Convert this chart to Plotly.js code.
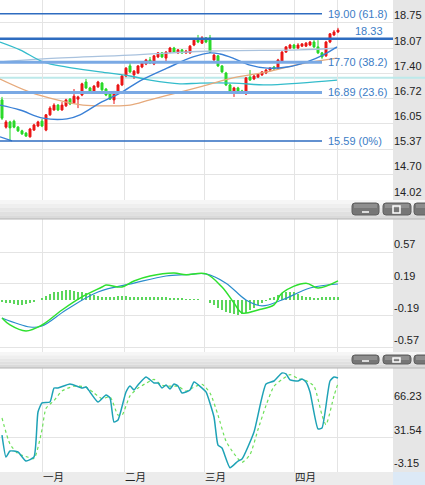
<!DOCTYPE html>
<html><head><meta charset="utf-8">
<script src="https://cdn.plot.ly/plotly-3.0.1.min.js"></script>
<style>html,body{margin:0;padding:0;background:#fff;overflow:hidden}#chart{width:425px;height:485px}</style>
</head><body><div id="chart"></div>
<script>
// ---------- data ----------
const candleIdx = [0,1,2,3,4,5,6,7,8,9,10,11,12,13,14,15,16,17,18,19,20,21,22,23,24,25,26,27,28,29,30,31,32,33,34,35,36,37,38,39,40,41,42,43,44,45,46,47,48,49,50,51,52,53,54,55,56,57,58,59,60,61,62,63,64,65,66,67,68,69,70,71,72,73,74,75,76,77,78,79,80,81,82,83,84];
const opens = [16.69,15.96,16.10,16.12,15.96,15.86,15.80,15.70,15.88,15.99,
16.12,15.88,16.29,16.42,16.55,16.42,16.53,16.71,16.61,16.71,
16.82,17.17,17.01,16.93,17.04,17.14,16.98,16.87,16.69,16.90,
17.09,17.33,17.60,17.36,17.41,17.57,17.65,17.76,17.65,17.84,
17.95,17.81,17.97,18.08,17.95,18.03,17.95,17.95,18.16,18.32,
18.21,18.35,18.35,17.76,17.87,17.60,17.41,17.09,16.90,17.01,
16.93,16.85,17.30,17.25,17.30,17.36,17.41,17.49,17.57,17.54,
17.73,17.97,18.08,18.16,18.08,18.13,18.13,18.16,18.24,18.11,
17.95,17.87,18.24,18.43,18.51];
const highs = [16.77,16.15,16.13,16.16,15.99,15.89,15.83,15.94,16.05,16.13,
16.18,16.31,16.52,16.60,16.58,16.63,16.72,16.74,16.98,16.80,
17.15,17.25,17.04,17.09,17.20,17.17,17.01,16.90,16.93,17.12,
17.36,17.57,17.71,17.49,17.62,17.71,17.79,17.84,17.89,17.97,
17.97,18.00,18.11,18.11,18.05,18.05,18.03,18.16,18.32,18.43,
18.40,18.37,18.43,17.92,17.89,17.62,17.44,17.12,17.04,17.04,
16.96,17.30,17.49,17.36,17.41,17.46,17.52,17.57,17.60,17.79,
18.00,18.13,18.19,18.19,18.21,18.21,18.24,18.27,18.29,18.29,
17.97,18.27,18.48,18.56,18.62];
const lows = [16.15,15.92,15.59,15.93,15.83,15.75,15.70,15.68,15.86,15.96,
15.96,15.85,16.26,16.40,16.39,16.40,16.50,16.55,16.58,16.47,
16.79,16.98,16.87,16.90,17.01,16.93,16.79,16.69,16.58,16.87,
17.06,17.30,17.41,17.25,17.38,17.54,17.62,17.65,17.62,17.81,
17.81,17.68,17.95,17.95,17.92,17.92,17.92,17.92,18.13,18.21,
18.19,18.21,17.95,17.73,17.57,17.41,17.06,16.87,16.77,16.90,
16.85,16.82,17.20,17.22,17.28,17.33,17.38,17.46,17.49,17.52,
17.71,17.95,18.05,18.05,18.05,18.11,18.11,18.13,18.08,17.92,
17.79,17.84,18.21,18.40,18.48];
const closes = [16.20,16.10,15.94,15.96,15.86,15.78,15.72,15.91,16.02,16.10,
15.99,16.29,16.47,16.55,16.42,16.55,16.69,16.58,16.79,16.77,
17.12,17.01,16.90,17.06,17.17,16.96,16.82,16.71,16.90,17.09,
17.33,17.54,17.44,17.46,17.60,17.68,17.76,17.68,17.87,17.95,
17.84,17.97,18.08,17.97,18.03,17.95,18.00,18.13,18.29,18.24,
18.35,18.24,17.97,17.89,17.60,17.44,17.09,16.90,17.01,16.93,
16.87,17.28,17.22,17.33,17.38,17.44,17.49,17.54,17.52,17.76,
17.97,18.11,18.16,18.08,18.16,18.19,18.21,18.24,18.11,17.95,
17.84,18.24,18.46,18.51,18.56];

// overlay lines on the price panel
const maBlueIdx = [-0.5,4.5,10.25,16.25,19.5,24.5,29.5,34.5,41.25,47.75,52,54.5,57.75,62,66.25,71.25,76.25,80.25,83.75];
const maBlueVal = [16.55,16.42,16.20,16.18,16.29,16.61,16.87,17.20,17.54,17.84,17.95,17.92,17.81,17.62,17.54,17.57,17.71,17.89,18.11];
const maCyanIdx = [-0.5,4.5,10.25,16.25,24.5,32,37,44.5,49.5,57.75,66.25,74.5,83.75];
const maCyanVal = [18.24,18.03,17.71,17.57,17.44,17.33,17.22,17.12,17.14,17.14,17.09,17.14,17.22];
const maOrangeIdx = [-0.5,7,13.75,20.25,27,32,37,44.5,49.5,57.75,66.25,74.5,83.75];
const maOrangeVal = [17.25,16.90,16.69,16.55,16.53,16.55,16.69,16.90,17.04,17.28,17.44,17.65,17.81];
const maSteelIdx = [-0.5,10.25,32,52.5,74.5,83.75];
const maSteelVal = [17.71,17.79,17.89,18.00,18.03,18.08];
const lowSegIdx = [-0.5,2.5];
const lowSegVal = [15.70,15.59];
const hLineLevel = 17.28;

const fibLevels = [19.00, 18.33, 17.70, 16.89, 15.59];
const fibLabels = ['19.00 (61.8)', '18.33', '17.70 (38.2)', '16.89 (23.6)', '15.59 (0%)'];

// MACD
const difIdx = [0,2,6,10,15,20,25,26,30,33,37,43,46,51,55,58,60,64,68,70,76,79,84];
const difVal = [-0.214,-0.297,-0.368,-0.297,-0.119,0.036,0.154,0.178,0.154,0.226,0.285,0.32,0.30,0.31,0.154,-0.036,-0.154,-0.119,-0.059,0.083,0.20,0.142,0.226];
const deaIdx = [0,7,10,16,24,33,41,46,51,56,61,65,70,77,84];
const deaVal = [-0.214,-0.321,-0.309,-0.119,0.095,0.20,0.285,0.30,0.31,0.20,0.0,-0.071,0.0,0.142,0.19];
const macdHist = [-0.02,-0.03,-0.04,
-0.05,-0.06,-0.06,-0.05,-0.04,-0.02,
0.00,0.02,
0.05,0.07,0.09,0.10,0.11,0.12,
0.12,0.11,0.10,0.09,0.08,0.07,
0.06,0.05,0.04,0.03,0.04,
0.04,0.05,0.05,0.05,0.04,0.04,0.04,0.04,
0.04,0.04,0.03,0.03,0.03,0.03,0.02,0.02,0.02,0.02,
0.01,0.01,0.01,0.01,0.00,0.00,
-0.03,-0.06,-0.09,-0.12,-0.14,-0.16,-0.17,
-0.18,-0.17,-0.15,-0.12,-0.09,
-0.06,-0.03,-0.01,0.02,
0.04,0.06,0.08,0.09,0.10,0.09,
0.07,0.05,0.04,0.03,0.02,
0.02,0.03,0.03,0.04,0.04,0.04];

// Stochastic
const kIdx = [0,1,2,4,6,8,9,10,12,13,14,17,20,21,22,24,26,27,28,29,31,32,33,34,36,38,39,40,41,42,43,44,45,47,48,50,51,53,54,55,57,59,60,63,66,68,70,71,72,74,75,76,77,79,80,82,83,84];
const kVal = [34.3,11.5,17.7,16.7,7.3,11.5,58.2,67.6,68.6,83.1,83.1,87.3,83.1,84.2,79.0,68.6,75.9,72.8,47.8,49.9,79.0,85.2,81.1,86.3,94.6,88.3,88.3,83.1,86.3,82.1,87.3,85.2,77.9,81.1,89.4,83.1,79.0,53.0,23.9,20.8,0.4,7.3,9.4,37.5,87.3,90.4,98.7,97.7,91.5,90.4,92.5,89.4,79.0,40.6,41.6,90.4,94.6,93.5];
const dIdx = [0,2,4,6,8,10,11,13,15,18,21,23,25,27,29,30,32,34,36,38,40,42,44,46,48,50,52,54,56,58,60,62,64,66,68,70,72,74,76,78,80,81,83,84];
const dVal = [52,25,15,12,10,40,62,70,80,85,84,78,72,74,55,55,75,83,88,92,86,85,85,80,84,87,78,55,28,15,6,14,40,65,85,92,97,93,91,85,55,45,75,88];

// axis ticks
const gridIdx = [10, 30.5, 50.5, 73, 83.75];
const monthLabels = ['一月','二月','三月','四月'];
const priceTicks = [18.75,18.07,17.40,16.72,16.05,15.37,14.70,14.02];
const macdTicks = [0.57,0.19,-0.19,-0.57];
const stochTicks = [66.23,31.54,-3.15];

// ---------- layout helpers (pixel geometry) ----------
const H = 485, MB = 13, MR = 32, PH = H - MB, PW = 425 - MR;
const py = p => (PH - p) / PH;
const pxf = p => p / PW;

const gridColor = '#e4e4e4';
const tickFont = {family: 'Liberation Sans, Arial, sans-serif', size: 11, color: '#222'};
const xBase = {range: [-0.5, 97.75], tickvals: gridIdx, showgrid: true, gridcolor: gridColor, zeroline: false, showline: false, ticks: '', showticklabels:false, fixedrange: true};

const shapes = [];
// right axis column
shapes.push({type:'rect', xref:'paper', yref:'paper', x0:1, x1:pxf(425), y0:py(485), y1:1, fillcolor:'#e6e6e6', line:{width:0}, layer:'below'});
// bottom month strip
shapes.push({type:'rect', xref:'paper', yref:'paper', x0:0, x1:1, y0:py(485), y1:0, fillcolor:'#ececec', line:{width:0}, layer:'below'});
shapes.push({type:'rect', xref:'paper', yref:'paper', x0:1, x1:pxf(425), y0:py(485), y1:0, fillcolor:'#dce9f6', line:{width:0}, layer:'below'});

// panel title bars
function titleBar(top, bottom) {
  const cols = ['#f6f6f6','#efefef','#e7e7e7','#e0e0e0','#dadada'];
  const step = (bottom - top) / cols.length;
  cols.forEach((c, k) => {
    shapes.push({type:'rect', xref:'paper', yref:'paper', x0:0, x1:pxf(425), y0:py(top + (k+1)*step), y1:py(top + k*step), fillcolor:c, line:{width:0}, layer:'above'});
  });
  shapes.push({type:'line', xref:'paper', yref:'paper', x0:0, x1:pxf(425), y0:py(bottom), y1:py(bottom), line:{color:'#b4b4b4', width:1}, layer:'above'});
  const bt = top + 3, bb = bottom - 4;
  [[352,379],[383,411],[414,440]].forEach(([a,b]) => {
    const r = 3;
    const path = `M ${pxf(a+r)} ${py(bt)} L ${pxf(b-r)} ${py(bt)} Q ${pxf(b)} ${py(bt)} ${pxf(b)} ${py(bt+r)} L ${pxf(b)} ${py(bb-r)} Q ${pxf(b)} ${py(bb)} ${pxf(b-r)} ${py(bb)} L ${pxf(a+r)} ${py(bb)} Q ${pxf(a)} ${py(bb)} ${pxf(a)} ${py(bb-r)} L ${pxf(a)} ${py(bt+r)} Q ${pxf(a)} ${py(bt)} ${pxf(a+r)} ${py(bt)} Z`;
    shapes.push({type:'path', xref:'paper', yref:'paper', path, fillcolor:'#767676', line:{color:'#5e5e5e', width:1}, layer:'above'});
    shapes.push({type:'rect', xref:'paper', yref:'paper', x0:pxf(a+2), x1:pxf(b-2), y0:py(bt+5), y1:py(bt+1), fillcolor:'rgba(255,255,255,0.18)', line:{width:0}, layer:'above'});
  });
  shapes.push({type:'line', xref:'paper', yref:'paper', x0:pxf(362), x1:pxf(369), y0:py(bb-3), y1:py(bb-3), line:{color:'#ffffff', width:1.5}, layer:'above'});
  shapes.push({type:'rect', xref:'paper', yref:'paper', x0:pxf(393), x1:pxf(400), y0:py(bb-2), y1:py(bt+3), fillcolor:'rgba(0,0,0,0)', line:{color:'#ffffff', width:1.5}, layer:'above'});
}
titleBar(200, 219);
titleBar(352, 368);

// fib lines
fibLevels.forEach((lv, k) => {
  const thick = (k === 2 || k === 3);
  const full = (k === 1);
  const s = {type:'line', xref: 'x', yref:'y', x0:-0.5, x1:80, y0:lv, y1:lv,
    line:{color: thick ? '#7aa9e4' : '#2e6cc0', width: thick ? 3 : (full ? 2.5 : 1.5)}, layer:'above'};
  if (full) { s.xref = 'paper'; s.x0 = 0; s.x1 = 1; }
  shapes.push(s);
});
// light horizontal level across the axis column
shapes.push({type:'line', xref:'paper', yref:'y', x0:0, x1:pxf(425), y0:hLineLevel, y1:hLineLevel, line:{color:'#bde9ea', width:2}, layer:'below'});

const annotations = fibLabels.map((t, k) => k === 1 ?
  {x: 95.75, y: fibLevels[k], xref:'x', yref:'y', text: t, showarrow:false, xanchor:'right', yanchor:'bottom', yshift:0, font:{family:'Liberation Sans, Arial, sans-serif', size:11, color:'#3b7cc6'}} :
  {x: 81, y: fibLevels[k], xref:'x', yref:'y', text: t, showarrow:false, xanchor:'left', yanchor:'middle', font:{family:'Liberation Sans, Arial, sans-serif', size:11, color:'#3b7cc6'}});

// month labels in the bottom strip
monthLabels.forEach((t, k) => {
  annotations.push({x: gridIdx[k] + 0.1, y: py(476.5), xref:'x3', yref:'paper', text: t, showarrow:false, xanchor:'left', yanchor:'middle', borderpad:0,
    font:{family:'Noto Sans CJK SC, sans-serif', size:10.5, color:'#222'}});
});

const lineTrace = (x, y, color, w, xa, ya, extra) => Object.assign({type:'scatter', mode:'lines', x, y, xaxis:xa, yaxis:ya, line:{color, width:w, shape:'spline', smoothing:1}, hoverinfo:'skip'}, extra || {});

const traces = [
  lineTrace(maSteelIdx, maSteelVal, '#a9c2de', 1.3, 'x', 'y'),
  lineTrace(maCyanIdx, maCyanVal, '#33bccb', 1.3, 'x', 'y'),
  lineTrace(maOrangeIdx, maOrangeVal, '#e6aa7c', 1.3, 'x', 'y'),
  lineTrace(maBlueIdx, maBlueVal, '#3a80d6', 1.4, 'x', 'y'),
  lineTrace(lowSegIdx, lowSegVal, '#3a80d6', 1.4, 'x', 'y'),
  {type:'candlestick', x:candleIdx, open:opens, high:highs, low:lows, close:closes, xaxis:'x', yaxis:'y',
   increasing:{line:{color:'#e81414', width:1}, fillcolor:'#f01818'},
   decreasing:{line:{color:'#22d622', width:1}, fillcolor:'#33e033'},
   whiskerwidth:0, hoverinfo:'skip'},
  {type:'bar', x:candleIdx, y:macdHist, xaxis:'x2', yaxis:'y2', width:0.28, marker:{color:'#5cd65c', line:{width:0}}, hoverinfo:'skip'},
  lineTrace(deaIdx, deaVal, '#2a8ccc', 1.2, 'x2', 'y2'),
  lineTrace(difIdx, difVal, '#2ee02e', 1.5, 'x2', 'y2'),
  lineTrace(dIdx, dVal, '#6ee05a', 1.2, 'x3', 'y3', {line:{color:'#6ee05a', width:1.2, dash:'dot', shape:'spline', smoothing:0.6}}),
  lineTrace(kIdx, kVal, '#1ea2b6', 1.5, 'x3', 'y3', {line:{color:'#1ea2b6', width:1.5, shape:'spline', smoothing:0.5}})
];

const yBase = {side:'right', showgrid:true, gridcolor:gridColor, zeroline:false, showline:false, ticks:'', ticklabelposition:'outside top', tickfont:tickFont, fixedrange:true};

const layout = {
  width:425, height:485,
  margin:{l:0, r:MR, t:0, b:MB, pad:0},
  paper_bgcolor:'#ffffff', plot_bgcolor:'rgba(0,0,0,0)',
  showlegend:false, bargap:0,
  xaxis: Object.assign({}, xBase, {anchor:'y', rangeslider:{visible:false}}),
  xaxis2: Object.assign({}, xBase, {anchor:'y2'}),
  xaxis3: Object.assign({}, xBase, {anchor:'y3'}),
  yaxis: Object.assign({}, yBase, {domain:[py(200), 1], range:[14.008, 19.366], tickvals:priceTicks, ticktext:priceTicks.map(v => v.toFixed(2))}),
  yaxis2: Object.assign({}, yBase, {domain:[py(352), py(219)], range:[-0.618, 0.962], tickvals:macdTicks, ticktext:macdTicks.map(v => v.toFixed(2))}),
  yaxis3: Object.assign({}, yBase, {domain:[0, py(368)], range:[-4.07, 103.9], tickvals:stochTicks, ticktext:stochTicks.map(v => v.toFixed(2))}),
  shapes, annotations
};

Plotly.newPlot('chart', traces, layout, {staticPlot:true, displayModeBar:false});
</script>
</body></html>
